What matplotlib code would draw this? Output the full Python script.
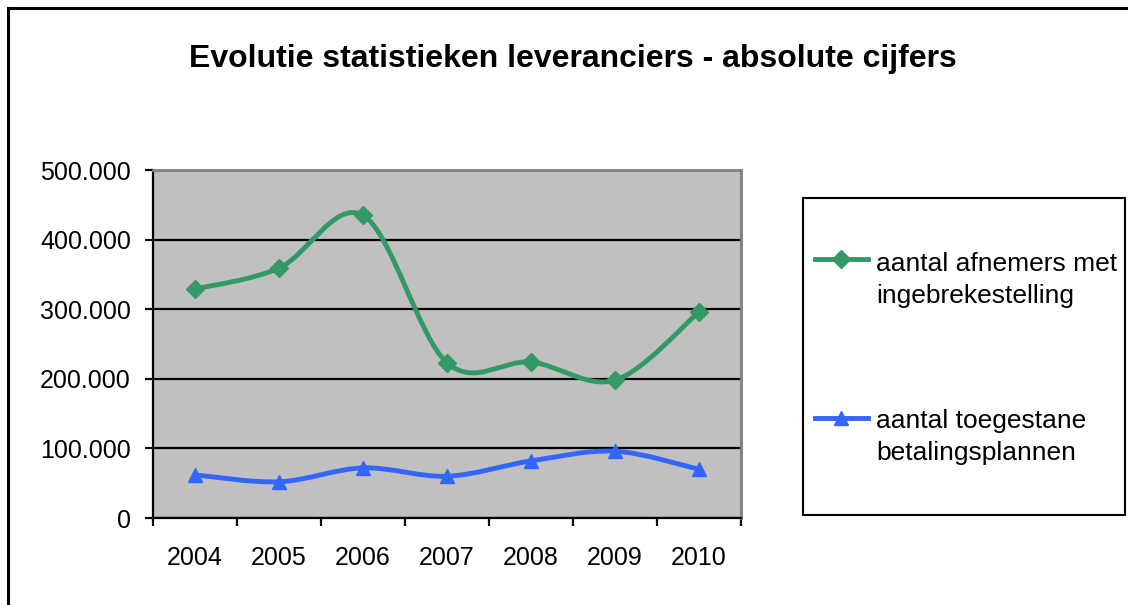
import matplotlib
matplotlib.use("Agg")
import matplotlib.pyplot as plt
from matplotlib.path import Path
from matplotlib.patches import PathPatch, Rectangle
from matplotlib.lines import Line2D
from matplotlib.ticker import FuncFormatter

years = ["2004", "2005", "2006", "2007", "2008", "2009", "2010"]
ingebrekestelling = [329000, 359000, 435000, 223000, 224000, 198000, 296000]
betalingsplannen = [62000, 52000, 72000, 60000, 82000, 96000, 70000]
labels = ["aantal afnemers met\ningebrekestelling", "aantal toegestane\nbetalingsplannen"]

GREEN = "#339966"
BLUE = "#3366ff"

plt.rcParams['font.family'] = ['Liberation Sans', 'DejaVu Sans']

fig = plt.figure(figsize=(11.28, 6.05), dpi=100)
W, H = 1128, 605
ax = fig.add_axes([153 / W, 1 - 518 / H, (741 - 153) / W, (518 - 170) / H])
ax.set_facecolor("#c0c0c0")


def smooth_path(xs, ys):
    # catmull-rom style bezier, similar to excel's smoothed line
    pts = list(zip(xs, ys))
    n = len(pts)
    verts = [pts[0]]
    codes = [Path.MOVETO]
    for i in range(n - 1):
        p0 = pts[max(i - 1, 0)]
        p1 = pts[i]
        p2 = pts[i + 1]
        p3 = pts[min(i + 2, n - 1)]
        c1 = (p1[0] + (p2[0] - p0[0]) / 6, p1[1] + (p2[1] - p0[1]) / 6)
        c2 = (p2[0] - (p3[0] - p1[0]) / 6, p2[1] - (p3[1] - p1[1]) / 6)
        verts += [c1, c2, p2]
        codes += [Path.CURVE4] * 3
    return Path(verts, codes)


xs = list(range(len(years)))
for vals, col, mk, ms in [(ingebrekestelling, GREEN, "D", 9.5),
                          (betalingsplannen, BLUE, "^", 10)]:
    ax.add_patch(PathPatch(smooth_path(xs, vals), fill=False, edgecolor=col,
                           lw=3.5, zorder=3, capstyle="round"))
    ax.plot(xs, vals, ls="none", marker=mk, ms=ms, color=col, zorder=4)

ax.set_xlim(-0.5, len(years) - 0.5)
ax.set_ylim(0, 500000)
ax.set_yticks(range(0, 500001, 100000))
ax.yaxis.set_major_formatter(FuncFormatter(lambda v, p: f"{int(v):,}".replace(",", ".")))
ax.yaxis.grid(True, color="black", lw=1.6)
ax.set_axisbelow(True)

ax.set_xticks([i - 0.5 for i in range(len(years) + 1)])
ax.set_xticklabels([])
ax.set_xticks(xs, minor=True)
ax.set_xticklabels(years, minor=True)
ax.tick_params(axis="x", which="minor", length=0, pad=20, labelsize=18)
ax.tick_params(axis="x", which="major", length=6, width=1.6, direction="out")
ax.tick_params(axis="y", length=6, width=1.6, direction="out", labelsize=18, pad=10)

for s in ["left", "bottom"]:
    ax.spines[s].set_color("black")
    ax.spines[s].set_linewidth(1.6)
for s in ["top", "right"]:
    ax.spines[s].set_color("#808080")
    ax.spines[s].set_linewidth(2)

fig.text(573 / W, 1 - 67 / H, "Evolutie statistieken leveranciers - absolute cijfers",
         ha="center", va="baseline", fontsize=23, fontweight="bold")

# outer chart border (top and left only visible)
fig.add_artist(Line2D([8 / W, 1], [1 - 8 / H, 1 - 8 / H], color="black", lw=2.2,
                      transform=fig.transFigure))
fig.add_artist(Line2D([8 / W, 8 / W], [0, 1 - 8 / H], color="black", lw=2.2,
                      transform=fig.transFigure))

# legend box
fig.add_artist(Rectangle((803 / W, 1 - 515 / H), (1125 - 803) / W, (515 - 198) / H,
                         fill=False, edgecolor="black", lw=1.5,
                         transform=fig.transFigure))
for ypx, base, col, mk, ms, lab in [(259, 271, GREEN, "D", 9.5, labels[0]),
                                    (418, 428, BLUE, "^", 10, labels[1])]:
    fy = 1 - ypx / H
    fig.add_artist(Line2D([815 / W, 868 / W], [fy, fy], color=col, lw=3.5,
                          transform=fig.transFigure))
    fig.add_artist(Line2D([841.5 / W], [fy], color=col, marker=mk, ms=ms,
                          transform=fig.transFigure))
    for k, line in enumerate(lab.split("\n")):
        fig.text(876 / W, 1 - (base + 32 * k) / H, line, ha="left", va="baseline",
                 fontsize=19)

fig.savefig("out.png", dpi=100)
